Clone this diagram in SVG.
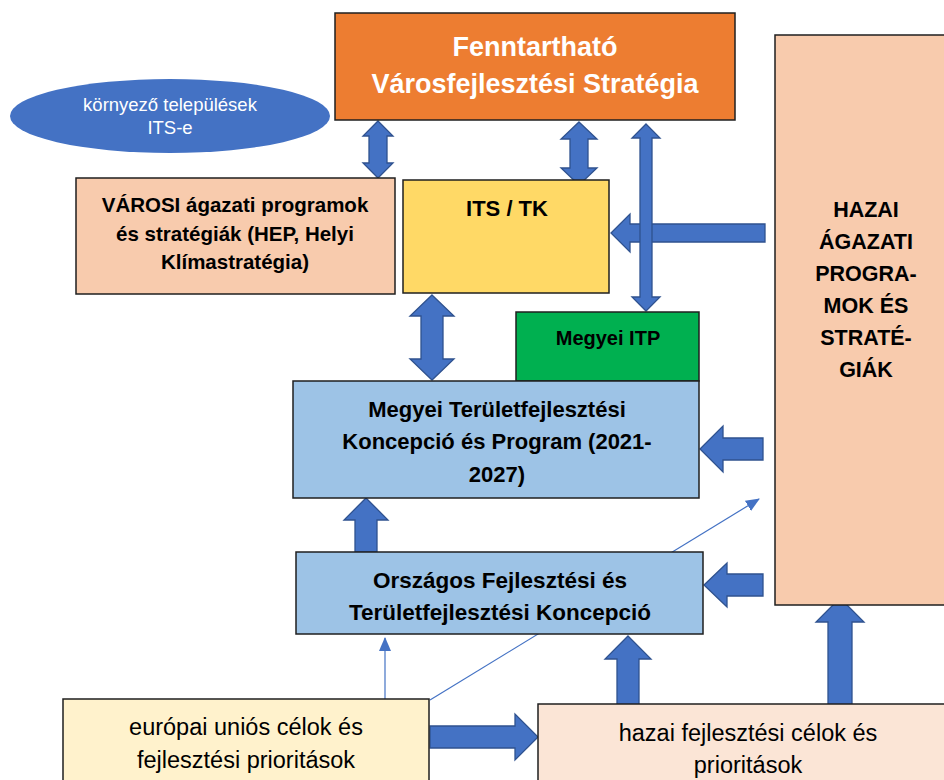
<svg xmlns="http://www.w3.org/2000/svg" width="944" height="780" viewBox="0 0 944 780">
<defs>
<style>
.box{stroke:#1f1f1f;stroke-width:1.5}
.arr{fill:#4472C4;stroke:#2F528F;stroke-width:1.3}
.t{font-family:"Liberation Sans",Arial,sans-serif;text-anchor:middle;fill:#000}
.b{font-weight:bold}
.thin{stroke:#4472C4;stroke-width:1.2;fill:none}
</style>
<marker id="ah" markerWidth="14" markerHeight="12" refX="13" refY="6" orient="auto" markerUnits="userSpaceOnUse">
<path d="M0,0 L14,6 L0,12 Z" fill="#4472C4"/>
</marker>
</defs>
<rect width="944" height="780" fill="#fff"/>
<g id="connectors">
<line class="thin" x1="430" y1="700" x2="759" y2="499" marker-end="url(#ah)"/>
<line class="thin" x1="385" y1="699" x2="385" y2="638" marker-end="url(#ah)"/>
<polygon class="arr" points="378,121 393,136 387,136 387,163 393,163 378,178 363,163 369,163 369,136 363,136"/>
<polygon class="arr" points="579,122 597,139 588,139 588,168 597,168 579,185 561,168 570,168 570,139 561,139"/>
<polygon class="arr" points="611,233 630,214 630,224 765,224 765,242 630,242 630,252"/>
<polygon class="arr" points="646,124 660,138 652,138 652,297 660,297 646,311 632,297 640,297 640,138 632,138"/>
<polygon class="arr" points="432,295 454,316 443,316 443,359 454,359 432,380 410,359 421,359 421,316 410,316"/>
<polygon class="arr" points="700,449 723,426 723,438 763,438 763,460 723,460 723,472"/>
<polygon class="arr" points="704,585 727,563 727,574 763,574 763,596 727,596 727,607"/>
<polygon class="arr" points="366,498 388,520 377,520 377,552 355,552 355,520 344,520"/>
<polygon class="arr" points="628,636 651,659 639,659 639,706 617,706 617,659 605,659"/>
<polygon class="arr" points="840,598 864,622 852,622 852,705 828,705 828,622 816,622"/>
<polygon class="arr" points="538,737 515,760 515,748 430,748 430,726 515,726 515,714"/>
</g>
<g id="fvs">
<rect class="box" x="335" y="13" width="400" height="107" fill="#ED7D31"/>
<text class="t b" x="535" y="56" font-size="27" style="fill:#fff">Fenntartható</text>
<text class="t b" x="535" y="93" font-size="27" style="fill:#fff">Városfejlesztési Stratégia</text>
</g>
<g id="kornyezo">
<ellipse cx="170" cy="116" rx="160" ry="37" fill="#4472C4"/>
<text class="t" x="170" y="111" font-size="18.5" style="fill:#fff">környező települések</text>
<text class="t" x="170" y="134" font-size="18.5" style="fill:#fff">ITS-e</text>
</g>
<g id="varosi">
<rect class="box" x="76" y="178" width="319" height="116" fill="#F8CBAD"/>
<text class="t b" x="235" y="212" font-size="20.5">VÁROSI ágazati programok</text>
<text class="t b" x="235" y="241" font-size="20.5">és stratégiák (HEP, Helyi</text>
<text class="t b" x="235" y="269" font-size="20.5">Klímastratégia)</text>
</g>
<g id="its">
<rect class="box" x="403" y="180" width="206" height="113" fill="#FFD966"/>
<text class="t b" x="507" y="216" font-size="22">ITS / TK</text>
</g>
<g id="itp">
<rect class="box" x="516" y="312" width="183" height="69" fill="#00B050"/>
<text class="t b" x="608" y="345" font-size="20">Megyei ITP</text>
</g>
<g id="megyei">
<rect class="box" x="293" y="381" width="406" height="117" fill="#9DC3E6"/>
<text class="t b" x="497" y="417" font-size="22">Megyei Területfejlesztési</text>
<text class="t b" x="497" y="449" font-size="22">Koncepció és Program (2021-</text>
<text class="t b" x="497" y="482" font-size="22">2027)</text>
</g>
<g id="orszagos">
<rect class="box" x="296" y="552" width="407" height="82" fill="#9DC3E6"/>
<text class="t b" x="500" y="588" font-size="22.5">Országos Fejlesztési és</text>
<text class="t b" x="500" y="620" font-size="22.5">Területfejlesztési Koncepció</text>
</g>
<g id="hazai-agazati">
<rect class="box" x="775" y="35" width="180" height="570" fill="#F8CBAD"/>
<text class="t b" x="866" y="217" font-size="21.5">HAZAI</text>
<text class="t b" x="866" y="249" font-size="21.5">ÁGAZATI</text>
<text class="t b" x="866" y="281" font-size="21.5">PROGRA-</text>
<text class="t b" x="866" y="313" font-size="21.5">MOK ÉS</text>
<text class="t b" x="866" y="345" font-size="21.5">STRATÉ-</text>
<text class="t b" x="866" y="377" font-size="21.5">GIÁK</text>
</g>
<g id="europai">
<rect class="box" x="63" y="699" width="366" height="90" fill="#FFF2CC"/>
<text class="t" x="246" y="735" font-size="23.5">európai uniós célok és</text>
<text class="t" x="246" y="768" font-size="23.5">fejlesztési prioritások</text>
</g>
<g id="hazai-celok">
<rect class="box" x="538" y="704" width="420" height="90" fill="#FBE5D6"/>
<text class="t" x="748" y="741" font-size="23.5">hazai fejlesztési célok és</text>
<text class="t" x="748" y="773" font-size="23.5">prioritások</text>
</g>
</svg>
